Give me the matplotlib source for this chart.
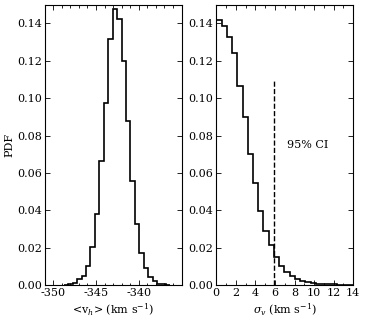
import numpy as np
import matplotlib
matplotlib.use("Agg")
import matplotlib.pyplot as plt
from matplotlib.ticker import MultipleLocator

# -----------------------------------------------------------------------------
# Data (fraction of samples per bin)
vh_bin_start = -348.77
vh_bin_width = 0.52
vh_pdf = [0.0001, 0.0004, 0.0009, 0.0030, 0.0048, 0.0102, 0.0205, 0.0378,
          0.0665, 0.0975, 0.1319, 0.1480, 0.1426, 0.1198, 0.0879, 0.0558,
          0.0325, 0.0170, 0.0089, 0.0044, 0.0021, 0.0007, 0.0004, 0.0001]

sig_bin_start = 0.0
sig_bin_width = 0.536
sig_pdf = [0.1421, 0.1387, 0.1328, 0.1244, 0.1064, 0.0898, 0.0701, 0.0547,
           0.0399, 0.0289, 0.0214, 0.0151, 0.0102, 0.0071, 0.0048, 0.0034,
           0.0024, 0.0017, 0.0012, 0.0008, 0.0006, 0.0004, 0.0003, 0.0002,
           0.00015, 0.0001, 0.00005]

ci95 = 5.9
ci_top = 0.11
ci_label = "95% CI"

plt.rcParams['font.family'] = 'DejaVu Serif'
plt.rcParams['mathtext.fontset'] = 'dejavuserif'
plt.rcParams['font.size'] = 8

fig = plt.figure(figsize=(3.66, 3.21), dpi=100)
ax1 = fig.add_axes([0.122, 0.112, 0.374, 0.873])
ax2 = fig.add_axes([0.591, 0.112, 0.374, 0.873])


def edges(start, width, n):
	return start + width * np.arange(n + 1)


ax1.stairs(vh_pdf, edges(vh_bin_start, vh_bin_width, len(vh_pdf)), color='k', lw=1.2, baseline=0)
ax1.vlines([vh_bin_start, vh_bin_start + vh_bin_width * len(vh_pdf)], 0, [vh_pdf[0], vh_pdf[-1]], color='k', lw=1.2)
ax2.stairs(sig_pdf, edges(sig_bin_start, sig_bin_width, len(sig_pdf)), color='k', lw=1.2, baseline=0)
ax2.vlines([sig_bin_start], 0, [sig_pdf[0]], color='k', lw=1.2)

ax2.plot([ci95, ci95], [0, ci_top], 'k--', lw=1.0)
ax2.text(7.2, 0.075, ci_label, va='center', ha='left', fontsize=8)

ax1.set_xlim(-351, -335)
ax1.set_xticks([-350, -345, -340])
ax1.set_xticklabels(['-350', '-345', '-340'])
ax2.set_xlim(0, 14)
ax2.set_xticks(np.arange(0, 15, 2))

for ax in (ax1, ax2):
	ax.set_ylim(0, 0.15)
	ax.set_yticks(np.arange(0, 0.141, 0.02))
	ax.set_yticklabels(['{:.2f}'.format(v) for v in np.arange(0, 0.141, 0.02)])
	ax.xaxis.set_minor_locator(MultipleLocator(1))
	ax.tick_params(which='both', direction='in', top=True, right=True, width=0.6)
	ax.tick_params(which='major', length=3.5, pad=2)
	ax.tick_params(which='minor', length=1.8)
	for s in ax.spines.values():
		s.set_linewidth(0.8)

ax1.set_ylabel('PDF', labelpad=2)
ax1.set_xlabel(r'<v$_h$> (km s$^{-1}$)', labelpad=3)
ax2.set_xlabel(r'$\sigma_v$ (km s$^{-1}$)', labelpad=3)

fig.savefig('out.png', dpi=100)
